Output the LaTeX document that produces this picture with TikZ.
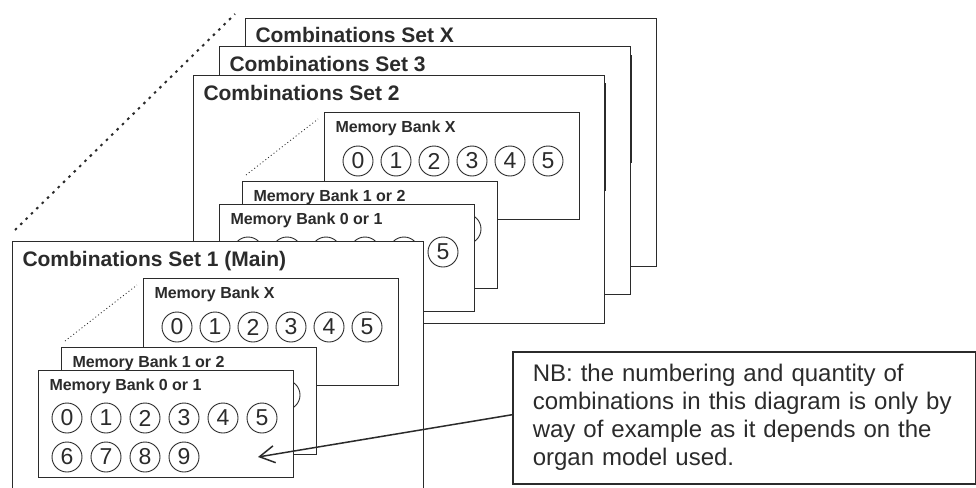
\documentclass[tikz,border=0pt]{standalone}
\usepackage{fontspec}
\setmainfont{Liberation Sans}
\usetikzlibrary{arrows.meta}
\definecolor{ink}{HTML}{2B2B2B}

\begin{document}
\begin{tikzpicture}[x=1pt, y=-1pt,
  every node/.style = {draw=ink, text=ink, line width=1pt},
  setbox/.style = {rectangle, fill=white, anchor=north west,
    minimum width=411pt, minimum height=248pt, inner sep=0pt},
  bankbox/.style = {rectangle, fill=white, anchor=north west,
    minimum width=255pt, minimum height=107pt, inner sep=0pt},
  settitle/.style = {draw=none, anchor=base west, inner sep=0pt,
    font=\fontsize{21}{25}\selectfont\bfseries},
  banktitle/.style = {draw=none, anchor=base west, inner sep=0pt,
    font=\fontsize{16}{19}\selectfont\bfseries},
  num/.style = {circle, minimum size=30pt, inner sep=0pt, line width=0.9pt,
    font=\fontsize{23}{25}\selectfont},
  note/.style = {rectangle, line width=1.5pt, anchor=north west,
    align=left, text width=423pt, minimum height=132pt, inner xsep=20pt,
    font=\fontsize{24}{28}\selectfont},
  peek/.style = {draw=ink, line width=0.8pt, dash pattern=on 1pt off 2.5pt},
  trail/.style = {draw=ink, line width=2pt, dash pattern=on 2.5pt off 5pt},
  pointer/.style = {draw=ink, line width=1.5pt, <-,
    >={Straight Barb[length=15pt,width=17pt]}}
  ]
  \useasboundingbox (0,0) rectangle (976,487);

  % the four sets, back to front
  \foreach \s/\px/\py/\ttl in {X/245/18/{Combinations Set X},
      3/219/46/{Combinations Set 3}, 2/193/75/{Combinations Set 2},
      1/12/241/{Combinations Set 1 (Main)}} {
    \begin{scope}[shift={(\px,\py)}]
      \node[setbox] (set\s) at (0,0) {};
      \node[settitle] (title\s) at (10,25) {\ttl};
      % memory bank X
      \node[bankbox] (bankx\s) at (131,37) {};
      \node[banktitle] (tx\s) at (142,57.5) {Memory Bank X};
      \foreach \d in {0,...,5}
        \node[num] (x\s-\d) at ({165+38*\d},86) {\d};
      % memory bank 1 or 2
      \node[bankbox] (banka\s) at (49,106) {};
      \node[banktitle] (ta\s) at (60,126.5) {Memory Bank 1 or 2};
      \foreach \d in {0,...,5}
        \node[num] (a\s-\d) at ({78+39*\d},154) {\d};
      \foreach \d in {6,...,9}
        \node[num] (a\s-\d) at ({78+39*(\d-6)},193) {\d};
      % memory bank 0 or 1
      \node[bankbox] (bankb\s) at (26,129) {};
      \node[banktitle] (tb\s) at (37,149.5) {Memory Bank 0 or 1};
      \foreach \d in {0,...,5}
        \node[num] (b\s-\d) at ({55+39*\d},177) {\d};
      \foreach \d in {6,...,9}
        \node[num] (b\s-\d) at ({55+39*(\d-6)},216) {\d};
      \draw[peek] ([shift={(4,-6)}]banka\s.north west)
        -- ([shift={(-6,7)}]bankx\s.north west);
    \end{scope}
  }

  \draw[trail] ([shift={(3,-11)}]set1.north west)
    -- ([shift={(-10,-4)}]setX.north west);

  \node[note] (nb) at (512,351) {NB: the numbering and quantity of\\
    combinations in this diagram is only by\\
    way of example as it depends on the\\
    organ model used.};
  \coordinate (tip) at (258,457);
  \draw[pointer] (tip) -- ([yshift=3pt]nb.west);
\end{tikzpicture}
\end{document}
